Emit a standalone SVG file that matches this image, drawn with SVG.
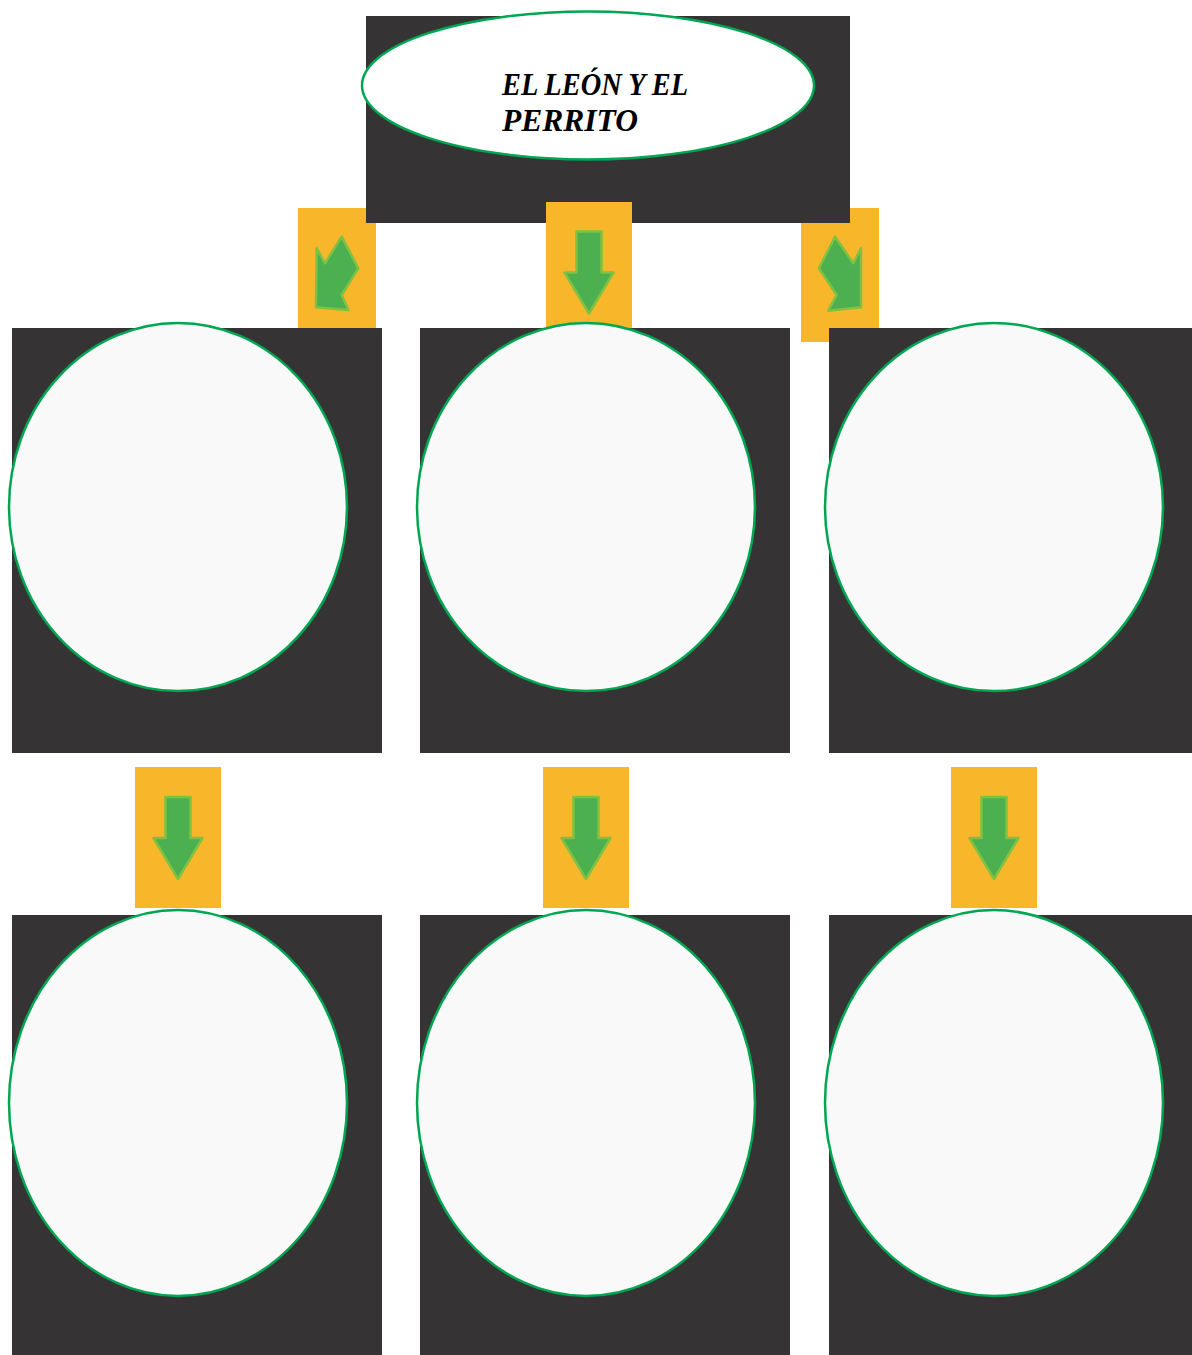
<svg xmlns="http://www.w3.org/2000/svg" width="1192" height="1355" viewBox="0 0 1192 1355">
<style>
.box{fill:#353334}
.bub{fill:#f9f9f9;stroke:#00a651;stroke-width:2.5}
.tag{fill:#f8b62b}
.arr{fill:#4caf50;stroke:#7dc242;stroke-width:2.5;stroke-linejoin:round}
.title{font-family:"Liberation Serif","Times New Roman",serif;font-weight:bold;font-style:italic;font-size:32px;fill:#000}
</style>
<defs>
<polygon id="down" class="arr" points="-12.5,-41 12.5,-41 12.5,0 24.5,0 0,41 -24.5,0 -12.5,0"/>
</defs>
<rect width="1192" height="1355" fill="#fff"/>
<g id="title">
<rect class="box" x="366" y="16" width="484" height="207"/>
<ellipse cx="588" cy="85.5" rx="226" ry="74" fill="#fff" stroke="#00a651" stroke-width="2.5"/>
<text class="title" x="502" y="95" textLength="186" lengthAdjust="spacingAndGlyphs">EL LEÓN Y EL</text>
<text class="title" x="502" y="131" textLength="136" lengthAdjust="spacingAndGlyphs">PERRITO</text>
</g>
<g id="connectors">
<path class="tag" d="M298,208 H366 V223 H376 V328 H298 Z"/>
<polygon class="arr" points="316.7,248.3 325,263.3 341.7,236.7 358.3,268.3 341.7,295 348.3,310 316,307.3"/>
<rect class="tag" x="546" y="202" width="86" height="126"/>
<use href="#down" x="589" y="272.5"/>
<path class="tag" d="M850,208 H879 V328 H829 V342 H801 V223 H850 Z"/>
<polygon class="arr" points="835,236.7 853.3,263.3 861,248.3 861,307.3 828.3,310.7 836.7,295 819,268.3"/>
<rect class="tag" x="135" y="767" width="86" height="141"/>
<use href="#down" x="178" y="838"/>
<rect class="tag" x="543" y="767" width="86" height="141"/>
<use href="#down" x="586" y="838"/>
<rect class="tag" x="951" y="767" width="86" height="141"/>
<use href="#down" x="994" y="838"/>
</g>
<g id="node-1-1"><rect class="box" x="12" y="328" width="370" height="425"/><ellipse class="bub" cx="178" cy="507" rx="169" ry="184"/></g>
<g id="node-1-2"><rect class="box" x="420" y="328" width="370" height="425"/><ellipse class="bub" cx="586" cy="507" rx="169" ry="184"/></g>
<g id="node-1-3"><rect class="box" x="829" y="328" width="363" height="425"/><ellipse class="bub" cx="994" cy="507" rx="169" ry="184"/></g>
<g id="node-2-1"><rect class="box" x="12" y="915" width="370" height="440"/><ellipse class="bub" cx="178" cy="1103" rx="169" ry="193"/></g>
<g id="node-2-2"><rect class="box" x="420" y="915" width="370" height="440"/><ellipse class="bub" cx="586" cy="1103" rx="169" ry="193"/></g>
<g id="node-2-3"><rect class="box" x="829" y="915" width="363" height="440"/><ellipse class="bub" cx="994" cy="1103" rx="169" ry="193"/></g>
</svg>
